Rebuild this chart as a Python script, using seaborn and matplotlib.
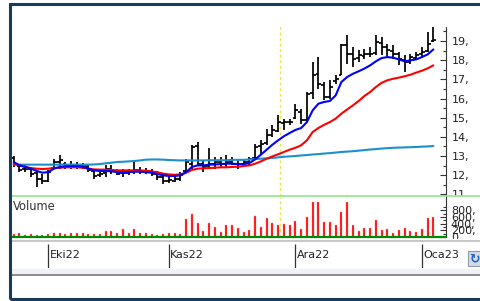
import numpy as np
import pandas as pd
import matplotlib
matplotlib.use("Agg")
import matplotlib.pyplot as plt
import seaborn as sns
from matplotlib.patches import Rectangle
from matplotlib.lines import Line2D

# ---------------- data ----------------
dates = pd.bdate_range("2022-09-23", "2023-01-04")

open_ = [12.90, 12.50, 12.30, 12.30, 12.10, 11.80, 11.70, 12.40, 12.70, 12.60,
         12.50, 12.50, 12.50, 12.50, 12.20, 12.00, 12.10, 12.30, 12.20, 12.10,
         12.10, 12.20, 12.25, 12.20, 12.15, 12.05, 11.90, 11.70, 11.70, 11.80,
         12.20, 12.60, 13.50, 12.60, 12.50, 12.60, 12.70, 12.60, 12.70, 12.60,
         12.60, 12.70, 12.90, 13.50, 13.70, 14.10, 14.30, 14.70, 14.80, 15.00,
         15.30, 14.90, 16.30, 17.30, 16.70, 16.10, 16.90, 17.25, 18.80, 18.30,
         18.10, 18.20, 18.30, 18.40, 18.90, 18.70, 18.50, 18.30, 18.00, 17.90,
         18.10, 18.30, 18.50, 19.00]
high = [13.00, 12.60, 12.51, 12.42, 12.25, 12.08, 12.25, 12.86, 13.03, 12.69,
        12.72, 12.69, 12.65, 12.60, 12.34, 12.34, 12.51, 12.51, 12.34, 12.34,
        12.34, 12.69, 12.42, 12.37, 12.34, 12.20, 12.08, 11.99, 12.02, 12.16,
        12.86, 13.56, 13.73, 12.77, 13.42, 12.95, 12.95, 13.03, 12.95, 12.86,
        12.86, 12.95, 13.64, 13.82, 14.42, 14.60, 15.12, 14.95, 14.95, 15.73,
        15.47, 16.34, 17.90, 18.16, 16.86, 16.95, 17.21, 18.86, 19.29, 18.69,
        18.51, 18.60, 18.69, 19.29, 19.21, 18.86, 18.77, 18.42, 18.25, 18.34,
        18.42, 18.69, 19.47, 19.73]
low = [12.42, 12.16, 12.16, 11.90, 11.38, 11.56, 11.64, 12.34, 12.34, 12.34,
       12.34, 12.34, 12.34, 12.16, 11.82, 11.90, 11.90, 12.08, 11.99, 11.90,
       12.02, 12.08, 12.08, 12.08, 11.96, 11.73, 11.56, 11.61, 11.64, 11.68,
       12.16, 12.34, 12.51, 12.16, 12.34, 12.34, 12.42, 12.42, 12.51, 12.34,
       12.51, 12.51, 12.86, 13.12, 13.56, 13.99, 14.25, 14.34, 14.60, 14.95,
       14.69, 14.77, 15.99, 16.51, 15.90, 15.99, 16.77, 17.21, 17.82, 17.64,
       17.90, 18.08, 18.16, 18.25, 18.25, 18.16, 18.08, 17.73, 17.38, 17.82,
       17.99, 18.16, 18.42, 18.95]
close = [12.60, 12.25, 12.34, 12.08, 11.82, 11.68, 12.16, 12.69, 12.77, 12.48,
         12.48, 12.51, 12.48, 12.25, 11.96, 12.08, 12.34, 12.25, 12.08, 12.13,
         12.16, 12.25, 12.20, 12.16, 12.08, 11.90, 11.68, 11.73, 11.82, 11.99,
         12.69, 13.47, 12.60, 12.42, 12.60, 12.69, 12.60, 12.69, 12.60, 12.60,
         12.69, 12.86, 13.47, 13.64, 14.08, 14.34, 14.77, 14.77, 14.77, 15.38,
         14.86, 16.25, 17.21, 16.77, 16.08, 16.60, 17.03, 18.77, 18.34, 18.08,
         18.25, 18.34, 18.34, 18.95, 18.69, 18.51, 18.34, 18.08, 17.90, 18.16,
         18.25, 18.42, 18.86, 19.03]
volume = [100, 129, 70, 80, 70, 50, 80, 129, 109, 100,
          119, 129, 109, 80, 80, 100, 179, 169, 109, 239,
          129, 239, 119, 109, 100, 50, 90, 119, 129, 90,
          527, 677, 428, 179, 428, 299, 159, 348, 348, 279,
          139, 219, 627, 299, 567, 418, 368, 378, 368, 478,
          239, 597, 1035, 1055, 448, 438, 358, 756, 1055, 358,
          189, 269, 259, 507, 209, 239, 129, 209, 279, 189,
          149, 249, 567, 607]
ma_fast = [12.69, 12.51, 12.43, 12.34, 12.22, 12.13, 12.16, 12.34, 12.43, 12.46,
           12.48, 12.48, 12.44, 12.34, 12.25, 12.22, 12.22, 12.20, 12.16, 12.16,
           12.16, 12.18, 12.18, 12.16, 12.13, 12.06, 11.99, 11.96, 11.96, 11.99,
           12.16, 12.43, 12.51, 12.51, 12.55, 12.56, 12.58, 12.60, 12.60, 12.58,
           12.58, 12.63, 12.83, 13.07, 13.33, 13.59, 13.82, 14.03, 14.20, 14.36,
           14.46, 14.77, 15.38, 15.73, 15.82, 15.87, 16.16, 16.86, 17.12, 17.29,
           17.42, 17.56, 17.73, 17.94, 18.11, 18.16, 18.13, 18.04, 17.94, 17.99,
           18.04, 18.16, 18.30, 18.56]
ma_mid = [12.60, 12.51, 12.43, 12.37, 12.34, 12.32, 12.34, 12.37, 12.39, 12.41,
          12.41, 12.41, 12.39, 12.34, 12.30, 12.29, 12.29, 12.27, 12.25, 12.25,
          12.25, 12.25, 12.25, 12.23, 12.20, 12.15, 12.08, 12.04, 12.02, 12.04,
          12.13, 12.27, 12.34, 12.36, 12.37, 12.39, 12.41, 12.41, 12.43, 12.44,
          12.48, 12.51, 12.60, 12.72, 12.86, 12.98, 13.09, 13.21, 13.33, 13.43,
          13.56, 13.82, 14.25, 14.46, 14.63, 14.77, 14.95, 15.21, 15.43, 15.64,
          15.87, 16.13, 16.34, 16.60, 16.82, 16.95, 17.03, 17.09, 17.16, 17.24,
          17.35, 17.45, 17.57, 17.73]
ma_long = [12.55, 12.55, 12.55, 12.55, 12.55, 12.55, 12.55, 12.55, 12.55, 12.55,
           12.55, 12.55, 12.55, 12.55, 12.56, 12.58, 12.62, 12.65, 12.69, 12.70,
           12.72, 12.74, 12.77, 12.81, 12.82, 12.82, 12.81, 12.79, 12.78, 12.77,
           12.77, 12.77, 12.77, 12.77, 12.78, 12.78, 12.78, 12.78, 12.80, 12.80,
           12.80, 12.82, 12.84, 12.86, 12.88, 12.90, 12.93, 12.96, 12.98, 13.00,
           13.03, 13.05, 13.08, 13.10, 13.13, 13.15, 13.18, 13.21, 13.23, 13.25,
           13.28, 13.31, 13.34, 13.36, 13.39, 13.41, 13.43, 13.44, 13.45, 13.46,
           13.47, 13.49, 13.50, 13.52]
month_labels = ["Eki22", "Kas22", "Ara22", "Oca23"]
price_ticks = [11, 12, 13, 14, 15, 16, 17, 18, 19, 20]
price_minor = [11.5, 12.5, 13.5, 14.5, 15.5, 16.5, 17.5, 18.5, 19.5]
volume_ticks = [0, 200, 400, 600, 800]
volume_minor = [100, 300, 500, 700, 900]

# ---------------- style ----------------
sns.set_theme(style="white")
plt.rcParams["font.family"] = ["DejaVu Sans"]

W, H = 480, 301
fig = plt.figure(figsize=(W / 100, H / 100), dpi=100)
fig.patch.set_facecolor("white")


def box(x0, y0, x1, y1):
    return [x0 / W, 1 - y1 / H, (x1 - x0) / W, (y1 - y0) / H]


def fx(x):
    return x / W


def fy(y):
    return 1 - y / H


X0, DX = 13.7, 5.749
XLIM = ((10 - X0) / DX, (446 - X0) / DX)
idx = np.arange(len(dates))
df = pd.DataFrame({"i": idx, "open": open_, "high": high, "low": low,
                   "close": close, "volume": volume, "fast": ma_fast,
                   "mid": ma_mid, "long": ma_long})
month_pos = [k for k in range(1, len(dates)) if dates[k].month != dates[k - 1].month]

# ---------------- price panel ----------------
ax_p = fig.add_axes(box(10, 5, 446, 196), zorder=0)
ax_p.set_facecolor("white")
lw_bar = 1.25
ax_p.vlines(df["i"], df["low"], df["high"], color="black", lw=lw_bar, zorder=2)
ax_p.hlines(df["open"], df["i"] - 0.5, df["i"], color="black", lw=lw_bar, zorder=2)
ax_p.hlines(df["close"], df["i"], df["i"] + 0.5, color="black", lw=lw_bar, zorder=2)
sns.lineplot(data=df, x="i", y="long", color="#1c8fd0", lw=1.5, ax=ax_p, zorder=3)
sns.lineplot(data=df, x="i", y="mid", color="#ff0000", lw=1.5, ax=ax_p, zorder=3)
sns.lineplot(data=df, x="i", y="fast", color="#0000ff", lw=1.5, ax=ax_p, zorder=4)
ax_p.axvline(46.3, ymin=0, ymax=(196 - 26) / 191, color="#f2e43a", lw=1.0,
             dashes=(2, 2), zorder=1)
ax_p.set_xlim(*XLIM)
ax_p.set_ylim(10.914, 20.878)
ax_p.set_xlabel("")
ax_p.set_ylabel("")
ax_p.yaxis.tick_right()
ax_p.set_yticks(price_ticks)
ax_p.set_yticklabels([f"{t}," for t in price_ticks])
ax_p.set_yticks(price_minor, minor=True)
ax_p.tick_params(axis="y", which="major", direction="in", length=4.5, width=0.8,
                 color="#333333", pad=4.2, labelsize=8, labelcolor="#222222",
                 left=False, right=True)
ax_p.tick_params(axis="y", which="minor", direction="in", length=2.2, width=0.8,
                 color="#333333", left=False, right=True)
ax_p.tick_params(axis="x", bottom=False, labelbottom=False)
last = ax_p.yaxis.get_major_ticks()[-1]
last.tick1line.set_visible(False)
last.tick2line.set_visible(False)
for s in ["left", "top", "bottom"]:
    ax_p.spines[s].set_visible(False)
ax_p.spines["right"].set_color("#333333")
ax_p.spines["right"].set_linewidth(0.8)
ax_p.spines["right"].set_bounds(10.914, 19.75)

# ---------------- volume panel ----------------
ax_v = fig.add_axes(box(10, 197, 446, 237), zorder=1)
ax_v.set_facecolor("white")
ax_v.bar(df["i"], df["volume"], width=0.36, color="#ff0000", edgecolor="#ff9a9a",
         linewidth=0.3, zorder=2)
ax_v.axhline(0, color="#008a00", lw=1.6, clip_on=False, zorder=3)
ax_v.axvline(46.3, color="#f2e43a", lw=1.0, dashes=(2, 2), zorder=1)
ax_v.set_xlim(*XLIM)
ax_v.set_ylim(0, 1194)
ax_v.yaxis.tick_right()
ax_v.set_yticks(volume_ticks)
ax_v.set_yticklabels(["0"] + [f"{t}," for t in volume_ticks[1:]])
ax_v.set_yticks(volume_minor, minor=True)
ax_v.tick_params(axis="y", which="major", direction="in", length=4.5, width=0.8,
                 color="#333333", pad=3.5, labelsize=8, labelcolor="#222222",
                 left=False, right=True)
ax_v.tick_params(axis="y", which="minor", direction="in", length=2.2, width=0.8,
                 color="#333333", left=False, right=True)
ax_v.tick_params(axis="x", bottom=False, labelbottom=False)
for s in ["left", "top", "bottom"]:
    ax_v.spines[s].set_visible(False)
ax_v.spines["right"].set_color("#333333")
ax_v.spines["right"].set_linewidth(0.8)
ax_v.text(3 / 436 * 0 + 0.007, 0.75, "Volume", transform=ax_v.transAxes,
          fontsize=8.3, color="#333333", ha="left", va="center")

# covers that clip the overflowing axis labels
fig.add_artist(Rectangle((fx(446.5), fy(196.5)), (480 - 446.5) / W, 0.5 / H,
                         transform=fig.transFigure, color="white", zorder=0.5))
fig.add_artist(Rectangle((fx(446.5), fy(196.4)), (34) / W, (196.4 - 0) / H * 0,
                         transform=fig.transFigure, color="white", zorder=0.5))
fig.add_artist(Rectangle((fx(446.5), fy(238.5)), 34 / W, 41.8 / H,
                         transform=fig.transFigure, color="white", zorder=0.5))
fig.add_artist(Rectangle((fx(446.5), fy(26.5)), 34 / W, 26.5 / H,
                         transform=fig.transFigure, color="white", zorder=0.5))
fig.add_artist(Rectangle((fx(10), fy(297)), 470 / W, (297 - 238.5) / H,
                         transform=fig.transFigure, color="white", zorder=1.5))

# ---------------- date axis ----------------
ax_d = fig.add_axes(box(10, 241, 446, 268), zorder=2)
ax_d.set_xlim(*XLIM)
ax_d.set_ylim(0, 1)
ax_d.axis("off")
ax_d.vlines(month_pos, 0, (268 - 244) / 27, color="#333333", lw=0.9)
for p, lab in zip(month_pos, month_labels):
    ax_d.text(p + 0.25, (268 - 255.5) / 27, lab, fontsize=8, color="#222222",
              ha="left", va="center", clip_on=False)

# ---------------- frame lines ----------------
fig.add_artist(Line2D([fx(10), fx(480)], [fy(196.2), fy(196.2)], color="#90e690",
                      lw=1.2, transform=fig.transFigure, zorder=3))
fig.add_artist(Line2D([fx(10), fx(480)], [fy(240.5), fy(240.5)], color="#b8b8b8",
                      lw=1.1, transform=fig.transFigure, zorder=3))
fig.add_artist(Rectangle((fx(10), fy(273.5)), 470 / W, 5 / H, color="#eef1f8",
                         transform=fig.transFigure, zorder=3))
fig.add_artist(Line2D([fx(10), fx(480)], [fy(275.3), fy(275.3)], color="#8c8c8c",
                      lw=1.4, transform=fig.transFigure, zorder=3))
fig.add_artist(Rectangle((fx(10.3), fy(298.7)), 480 / W, (298.7 - 3.5) / H,
                         fill=False, edgecolor="#1b3a57", lw=2.2,
                         transform=fig.transFigure, zorder=5))
# refresh icon
fig.add_artist(Rectangle((fx(468), fy(266)), 14 / W, 15 / H, facecolor="#d5dbe6",
                         edgecolor="#8e99ab", lw=0.8, transform=fig.transFigure,
                         zorder=4))
fig.text(fx(474.5), fy(258.5), "\u21bb", color="#1f5fbf", fontsize=9,
         fontweight="bold", ha="center", va="center", zorder=4.5)

fig.savefig("out.png", dpi=100, facecolor="white")
